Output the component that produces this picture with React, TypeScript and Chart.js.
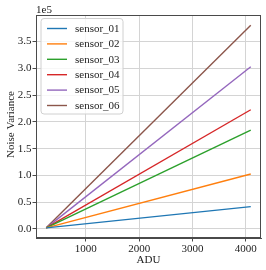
import React, { useEffect, useRef } from "react";
import { Chart, registerables } from "chart.js";

Chart.register(...registerables);

const ADU = [256, 4096];
const SENSOR_NAMES = ["sensor_01", "sensor_02", "sensor_03", "sensor_04", "sensor_05", "sensor_06"];
const SENSOR_01 = [2000, 41600];
const SENSOR_02 = [2000, 102500];
const SENSOR_03 = [2000, 184700];
const SENSOR_04 = [2000, 222600];
const SENSOR_05 = [2000, 303000];
const SENSOR_06 = [2000, 380600];
const X_TICKS = [1000, 2000, 3000, 4000];
const Y_TICKS = [0, 50000, 100000, 150000, 200000, 250000, 300000, 350000];
const COLORS = ["#1f77b4", "#ff7f0e", "#2ca02c", "#d62728", "#9467bd", "#8c564b"];

const FONT = "Liberation Serif, Times New Roman, serif";
const SPINE = "#4a4a4a";

const overlayPlugin = {
  id: "overlay",
  afterDatasetsDraw(chart: any) {
    const { ctx, chartArea } = chart;
    const { left, right, top, bottom } = chartArea;
    ctx.save();
    // spines
    ctx.strokeStyle = SPINE;
    ctx.lineWidth = 1;
    ctx.strokeRect(left + 0.5, top + 0.5, right - left - 1, bottom - top - 1);

    // legend
    const bx = 41, by = 18.5, bw = 82, bh = 95.5, r = 3;
    ctx.beginPath();
    ctx.moveTo(bx + r, by);
    ctx.lineTo(bx + bw - r, by);
    ctx.quadraticCurveTo(bx + bw, by, bx + bw, by + r);
    ctx.lineTo(bx + bw, by + bh - r);
    ctx.quadraticCurveTo(bx + bw, by + bh, bx + bw - r, by + bh);
    ctx.lineTo(bx + r, by + bh);
    ctx.quadraticCurveTo(bx, by + bh, bx, by + bh - r);
    ctx.lineTo(bx, by + r);
    ctx.quadraticCurveTo(bx, by, bx + r, by);
    ctx.closePath();
    ctx.fillStyle = "rgba(255,255,255,0.8)";
    ctx.fill();
    ctx.strokeStyle = "#d0d0d0";
    ctx.lineWidth = 1;
    ctx.stroke();

    ctx.font = `11px ${FONT}`;
    ctx.textBaseline = "middle";
    ctx.textAlign = "left";
    chart.data.datasets.forEach((ds: any, i: number) => {
      const y = 28.5 + i * 15.4;
      ctx.strokeStyle = ds.borderColor;
      ctx.lineWidth = 1.4;
      ctx.beginPath();
      ctx.moveTo(47, y);
      ctx.lineTo(67, y);
      ctx.stroke();
      ctx.fillStyle = "#222";
      ctx.fillText(ds.label, 75, y + 0.5);
    });

    // offset text
    ctx.fillStyle = "#222";
    ctx.textBaseline = "alphabetic";
    ctx.fillText("1e5", 36, 13);

    // axis titles
    ctx.textAlign = "center";
    ctx.textBaseline = "middle";
    ctx.fillText("ADU", (left + right) / 2, 260.5);
    ctx.translate(11, 124.5);
    ctx.rotate(-Math.PI / 2);
    ctx.fillText("Noise Variance", 0, 0);
    ctx.restore();
  },
};

export default function App() {
  const ref = useRef<HTMLCanvasElement | null>(null);
  useEffect(() => {
    if (!ref.current) return;
    const series = [SENSOR_01, SENSOR_02, SENSOR_03, SENSOR_04, SENSOR_05, SENSOR_06];
    const chart = new Chart(ref.current, {
      type: "line",
      data: {
        datasets: series.map((vals, i) => ({
          label: SENSOR_NAMES[i],
          data: ADU.map((x, j) => ({ x, y: vals[j] })),
          borderColor: COLORS[i],
          backgroundColor: COLORS[i],
          borderWidth: 1.4,
          pointRadius: 0,
          fill: false,
          tension: 0,
        })),
      },
      options: {
        responsive: false,
        animation: false,
        devicePixelRatio: 1,
        layout: { padding: { top: 15, right: 5, left: 0, bottom: 0 } },
        plugins: { legend: { display: false }, tooltip: { enabled: false } },
        scales: {
          x: {
            type: "linear",
            min: 64,
            max: 4288,
            afterFit: (s: any) => { s.height = 32; },
            afterBuildTicks: (s: any) => { s.ticks = X_TICKS.map((v) => ({ value: v })); },
            grid: { color: "#d4d4d4", lineWidth: 1, tickColor: SPINE, tickLength: 3.5, drawTicks: true },
            border: { display: true, color: SPINE },
            ticks: { font: { family: FONT, size: 11 }, color: "#222", padding: 1, maxRotation: 0, autoSkip: false, callback: (v: any) => String(v) },
          },
          y: {
            type: "linear",
            min: -16930,
            max: 399530,
            afterFit: (s: any) => { s.width = 36; },
            afterBuildTicks: (s: any) => { s.ticks = Y_TICKS.map((v) => ({ value: v })); },
            grid: { color: "#d4d4d4", lineWidth: 1, tickColor: SPINE, tickLength: 3.5, drawTicks: true },
            border: { display: true, color: SPINE },
            ticks: { font: { family: FONT, size: 11 }, color: "#222", padding: 1, autoSkip: false, callback: (v: any) => (Number(v) / 1e5).toFixed(1) },
          },
        },
      },
      plugins: [overlayPlugin],
    });
    return () => chart.destroy();
  }, []);
  return (
    <div style={{ position: "fixed", left: 0, top: 0, width: 266, height: 270, background: "#fff" }}>
      <canvas ref={ref} width={266} height={270} style={{ display: "block" }} />
    </div>
  );
}
